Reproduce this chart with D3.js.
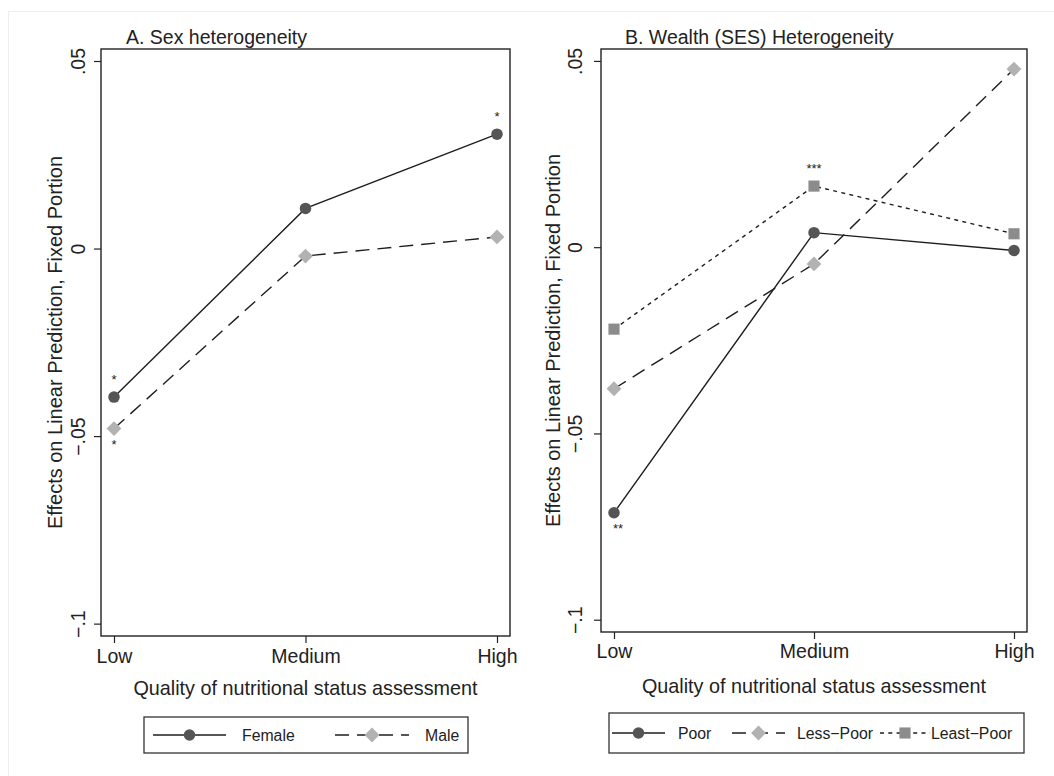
<!DOCTYPE html>
<html lang="en">
<head>
<meta charset="UTF-8">
<title>Heterogeneity in effects by quality of nutritional status assessment</title>
<script src="https://d3js.org/d3.v7.min.js"></script>
<style>
    body { margin: 0; background: #fff; }
    text { font-family: "Liberation Sans", Arial, sans-serif; fill: #222; }
    .frame { fill: none; stroke: #222; stroke-width: 1.4px; }
    .series { fill: none; stroke: #1e1e1e; stroke-width: 1.4px; }
    .axis path { display: none; }
    .axis line { stroke: #222; stroke-width: 1.2px; }
    .axis text { font-size: 19.5px; }
    .legend rect { fill: #fff; stroke: #333; stroke-width: 1.3px; }
</style>
</head>
<body>
<script>
    // quality levels on the x axis
    const levels = ["Low", "Medium", "High"];
    const yTicks = [0.05, 0, -0.05, -0.1];
    const yDomain = [-0.1033, 0.0532];

    // panel A: sex
    const female = [-0.0396, 0.0107, 0.0305];
    const male = [-0.0480, -0.0020, 0.0031];
    const femaleStars = ["*", "", "*"];
    const maleStars = ["*", "", ""];

    // panel B: wealth
    const poor = [-0.0713, 0.0039, -0.0009];
    const lessPoor = [-0.0380, -0.0045, 0.0478];
    const leastPoor = [-0.0220, 0.0164, 0.0036];
    const poorStars = ["**", "", ""];
    const lessPoorStars = ["", "", ""];
    const leastPoorStars = ["", "***", ""];

    const styles = {
        circle: {shape: d3.symbolCircle, size: 104, rot: 0, fill: "#555", dash: null},
        diamond: {shape: d3.symbolSquare, size: 110, rot: 45, fill: "#b2b2b2", dash: "14,8"},
        square: {shape: d3.symbolSquare, size: 124, rot: 0, fill: "#8c8c8c", dash: "4,4.3"}
    };

    const svg = d3.select("body").append("svg")
        .attr("width", 1054)
        .attr("height", 776);

    // faint outer border of the figure
    svg.append("rect")
        .attr("x", 8.5).attr("y", 11.5)
        .attr("width", 1100).attr("height", 800)
        .attr("fill", "none").attr("stroke", "#eeeeee");

    const fmt = d => String(d).replace("0.", ".").replace("-", "\u2212");

    function marker(g, st, x, y) {
        g.append("path")
            .attr("d", d3.symbol().type(st.shape).size(st.size)())
            .attr("transform", "translate(" + x + "," + y + ") rotate(" + st.rot + ")")
            .attr("fill", st.fill);
    }

    function drawPanel(p) {
        const g = svg.append("g");

        const x = d3.scalePoint()
            .domain(levels)
            .range([p.left + p.inset, p.right - p.inset]);
        const y = d3.scaleLinear()
            .domain(yDomain)
            .range([p.bottom, p.top]);

        g.append("text")
            .attr("x", p.titleX).attr("y", 44)
            .style("font-size", "19.5px")
            .text(p.title);

        // y axis
        const ya = g.append("g")
            .attr("class", "axis")
            .attr("transform", "translate(" + p.left + ",0)")
            .call(d3.axisLeft(y).tickValues(yTicks).tickSize(7).tickSizeOuter(0).tickFormat(fmt));
        ya.selectAll("text")
            .attr("x", 0).attr("y", -p.tickOff).attr("dy", 0)
            .attr("text-anchor", "middle")
            .attr("transform", "rotate(-90)");

        // x axis
        const xa = g.append("g")
            .attr("class", "axis")
            .attr("transform", "translate(0," + p.bottom + ")")
            .call(d3.axisBottom(x).tickSize(7).tickSizeOuter(0));
        xa.selectAll("text")
            .attr("y", p.xLabY - p.bottom).attr("dy", 0);

        g.append("rect")
            .attr("class", "frame")
            .attr("x", p.left).attr("y", p.top)
            .attr("width", p.right - p.left).attr("height", p.bottom - p.top);

        g.append("text")
            .attr("transform", "translate(" + (p.left - p.yTitleOff) + "," + ((p.top + p.bottom) / 2) + ") rotate(-90)")
            .attr("text-anchor", "middle")
            .style("font-size", "20px")
            .text("Effects on Linear Prediction, Fixed Portion");

        g.append("text")
            .attr("x", (p.left + p.right) / 2).attr("y", p.xTitleY)
            .attr("text-anchor", "middle")
            .style("font-size", "19.8px")
            .text("Quality of nutritional status assessment");

        const line = d3.line()
            .x((d, i) => x(levels[i]))
            .y(d => y(d));

        p.series.forEach(s => {
            const st = styles[s.style];
            g.append("path")
                .datum(s.values)
                .attr("class", "series")
                .attr("stroke-dasharray", st.dash)
                .attr("d", line);
            s.values.forEach((v, i) => {
                marker(g, st, x(levels[i]), y(v));
                if (s.stars[i]) {
                    const below = s.starPos === "below";
                    const multi = s.stars[i].length > 1 && below;
                    g.append("text")
                        .attr("x", x(levels[i]) + (multi ? -1 : 0))
                        .attr("y", y(v) + (below ? 20 : -13))
                        .attr("text-anchor", multi ? "start" : "middle")
                        .style("font-size", "13px")
                        .text(s.stars[i]);
                }
            });
        });

        // legend
        const lg = g.append("g").attr("class", "legend");
        lg.append("rect")
            .attr("x", p.legend.x0).attr("y", p.legend.y0)
            .attr("width", p.legend.x1 - p.legend.x0)
            .attr("height", p.legend.y1 - p.legend.y0);
        const ly = (p.legend.y0 + p.legend.y1) / 2;
        p.series.forEach((s, i) => {
            const k = p.legend.keys[i];
            const st = styles[s.style];
            lg.append("line")
                .attr("class", "series")
                .attr("x1", k[0]).attr("x2", k[0] + k[1])
                .attr("y1", ly).attr("y2", ly)
                .attr("stroke-dasharray", st.dash);
            marker(lg, st, k[0] + k[1] / 2, ly);
            lg.append("text")
                .attr("x", k[2]).attr("y", ly + 5.5)
                .style("font-size", "15.8px")
                .text(s.name);
        });
    }

    drawPanel({
        title: "A. Sex heterogeneity", titleX: 126,
        left: 101, right: 510, top: 49, bottom: 636, inset: 13,
        tickOff: 16, yTitleOff: 39, xLabY: 663, xTitleY: 695,
        series: [
            {name: "Female", values: female, stars: femaleStars, starPos: "above", style: "circle"},
            {name: "Male", values: male, stars: maleStars, starPos: "below", style: "diamond"}
        ],
        legend: {x0: 144, x1: 468, y0: 717, y1: 753, keys: [[153, 73, 242], [335, 74, 425]]}
    });

    drawPanel({
        title: "B. Wealth (SES) Heterogeneity", titleX: 625,
        left: 601, right: 1027, top: 49, bottom: 632, inset: 13,
        tickOff: 19, yTitleOff: 41, xLabY: 658, xTitleY: 693,
        series: [
            {name: "Poor", values: poor, stars: poorStars, starPos: "below", style: "circle"},
            {name: "Less\u2212Poor", values: lessPoor, stars: lessPoorStars, starPos: "below", style: "diamond"},
            {name: "Least\u2212Poor", values: leastPoor, stars: leastPoorStars, starPos: "above", style: "square"}
        ],
        legend: {x0: 609, x1: 1024, y0: 713, y1: 753, keys: [[612, 53, 678], [732, 53, 797], [880, 50, 931]]}
    });
</script>
</body>
</html>
